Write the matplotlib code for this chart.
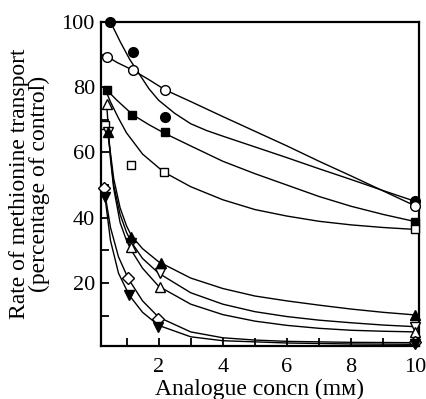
import matplotlib.pyplot as plt
from matplotlib.ticker import MultipleLocator

plt.rcParams["font.family"] = ["Liberation Serif", "DejaVu Serif"]

# measured points (analogue concn, % of control)
fcirc_x = [0.5, 1.2, 2.2, 10]
fcirc_y = [100, 90.7, 70.8, 45]
ocirc_x = [0.4, 1.19, 2.19, 10]
ocirc_y = [89.4, 85.3, 79.2, 43.6]
fsq_x = [0.38, 1.17, 2.19, 10]
fsq_y = [79.2, 71.5, 66.4, 38.8]
osq_x = [0.33, 1.13, 2.16, 10]
osq_y = [68.4, 56.2, 53.9, 36.4]
ftri_x = [0.42, 1.15, 2.08, 10]
ftri_y = [66.2, 34.2, 26.2, 10.2]
itri_x = [0.42, 1.13, 2.05, 10]
itri_y = [66.2, 32.2, 23.0, 6.6]
otri_x = [0.38, 1.13, 2.05, 10]
otri_y = [75.0, 31.0, 18.8, 5.0]
odia_x = [0.3, 1.05, 1.98, 10]
odia_y = [49.0, 21.4, 9.0, 1.8]
fitri_x = [0.33, 1.08, 1.98, 10]
fitri_y = [46.2, 16.3, 6.6, 1.3]

# fitted curves
fcirc_cx = [0.5, 0.8, 1.1, 1.4, 1.7, 2.0, 2.5, 3, 3.5, 4, 5, 6, 7, 8, 9, 10]
fcirc_cy = [100, 94, 88.5, 84, 79.5, 76, 72, 68.8, 66.7, 65, 61.7, 58.4, 55, 51.7, 48.3, 45]
ocirc_cx = [0.3, 0.7, 1.2, 1.7, 2.2, 3, 4, 5, 6, 7, 8, 9, 10]
ocirc_cy = [90, 87.6, 85.2, 82.3, 79.2, 75.6, 71, 66.5, 62, 57.3, 52.8, 48.2, 43.6]
fsq_cx = [0.3, 0.7, 1.2, 1.7, 2.2, 3, 4, 5, 6, 7, 8, 9, 10]
fsq_cy = [80, 76, 71.5, 68.5, 65.8, 62, 57.3, 53.5, 50, 46.5, 43.5, 41, 38.8]
osq_cx = [0.35, 0.5, 0.75, 1.0, 1.5, 2.16, 3, 4, 5, 6, 7, 8, 9, 10]
osq_cy = [79, 75.5, 70.5, 66, 59.5, 54, 49.5, 45.5, 42.5, 40.5, 38.9, 37.8, 37, 36.4]
ftri_cx = [0.42, 0.6, 0.8, 1.0, 1.15, 1.5, 2, 3, 4, 5, 6, 7, 8, 9, 10]
ftri_cy = [66, 52, 43, 37.5, 34.5, 30.5, 26.5, 21.5, 18.3, 16, 14.5, 13.2, 12, 11, 10.2]
itri_cx = [0.42, 0.6, 0.8, 1.0, 1.15, 1.5, 2, 3, 4, 5, 6, 7, 8, 9, 10]
itri_cy = [66, 50, 41, 35.5, 32.5, 27.5, 23, 17, 13.5, 11.2, 9.7, 8.6, 7.8, 7.1, 6.6]
otri_cx = [0.38, 0.5, 0.6, 0.8, 1.0, 1.15, 1.5, 2, 3, 4, 5, 6, 7, 8, 9, 10]
otri_cy = [75, 58, 49, 38.5, 33, 30, 24.5, 19, 13.5, 10.3, 8.3, 7.0, 6.1, 5.5, 5.2, 5.0]
odia_cx = [0.3, 0.5, 0.75, 1.05, 1.5, 2, 3, 4, 5, 6, 8, 10]
odia_cy = [49, 37, 28, 21.4, 14.5, 9.5, 5, 3.2, 2.5, 2.1, 1.8, 1.7]
fitri_cx = [0.33, 0.5, 0.75, 1.08, 1.5, 2, 3, 4, 6, 8, 10]
fitri_cy = [46.2, 33, 23, 16.3, 11, 7, 3.5, 2.3, 1.6, 1.3, 1.2]

fig = plt.figure(figsize=(4.26, 3.99), dpi=100)
ax = fig.add_axes([0.236, 0.133, 0.748, 0.812])

curves = [
    (fcirc_cx, fcirc_cy), (ocirc_cx, ocirc_cy), (fsq_cx, fsq_cy), (osq_cx, osq_cy),
    (ftri_cx, ftri_cy), (itri_cx, itri_cy), (otri_cx, otri_cy),
    (odia_cx, odia_cy), (fitri_cx, fitri_cy),
]
for cx, cy in curves:
    ax.plot(cx, cy, color="black", lw=1.0)

ms = 7
pts = [
    (fcirc_x, fcirc_y, "o", "black"),
    (ocirc_x, ocirc_y, "o", "white"),
    (fsq_x, fsq_y, "s", "black"),
    (osq_x, osq_y, "s", "white"),
    (itri_x, itri_y, "v", "white"),
    (ftri_x, ftri_y, "^", "black"),
    (otri_x, otri_y, "^", "white"),
    (odia_x, odia_y, "D", "white"),
    (fitri_x, fitri_y, "v", "black"),
]
for x, y, m, fc in pts:
    size = ms - 1 if m in ("D", "s") else ms
    ax.plot(x, y, ls="none", marker=m, ms=size, mfc=fc, mec="black",
            mew=1.0, clip_on=False, zorder=3)

ax.set_xlim(0.19, 10.12)
ax.set_ylim(0.7, 100)
ax.xaxis.set_minor_locator(MultipleLocator(1))
ax.set_xticks([2, 4, 6, 8, 10])
ax.set_yticks([20, 40, 60, 80, 100])
ax.yaxis.set_minor_locator(MultipleLocator(10))
ax.tick_params(which="both", direction="in", length=6, width=1.3, labelsize=16)
ax.tick_params(axis="x", pad=9)
ax.tick_params(axis="y", pad=4)
for s in ax.spines.values():
    s.set_linewidth(1.6)

ax.set_xlabel("Analogue concn (mᴍ)", fontsize=17, labelpad=1)
ax.set_ylabel("Rate of methionine transport\n(percentage of control)",
              fontsize=17, labelpad=8, linespacing=0.95)

fig.savefig("out.png", dpi=100)
